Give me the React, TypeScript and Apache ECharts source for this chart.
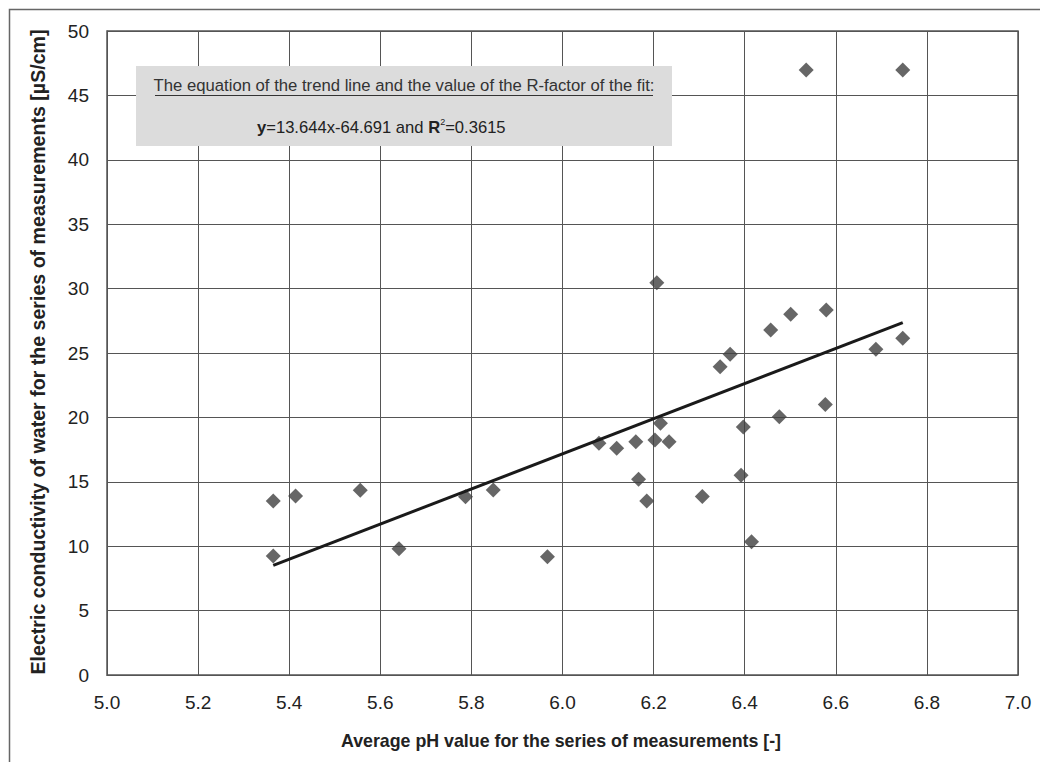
import React, { useEffect, useRef } from "react";
import * as echarts from "echarts";

const phValues = [
  5.365, 5.414, 5.556, 5.365, 5.641, 5.787, 5.848, 5.967, 6.080, 6.119,
  6.161, 6.167, 6.185, 6.207, 6.203, 6.215, 6.234, 6.307, 6.346, 6.368,
  6.397, 6.392, 6.415, 6.457, 6.501, 6.579, 6.476, 6.577, 6.688, 6.747,
  6.535, 6.747,
];
const conductivity = [
  13.5, 13.9, 14.35, 9.24, 9.81, 13.84, 14.36, 9.19, 17.99, 17.6,
  18.1, 15.2, 13.5, 30.46, 18.25, 19.54, 18.11, 13.85, 23.94, 24.9,
  19.25, 15.5, 10.35, 26.79, 28.0, 28.34, 20.05, 21.0, 25.29, 26.14,
  46.97, 46.97,
];
const trendSlope = 13.644;
const trendIntercept = -64.691;
const xTicks = ["5.0", "5.2", "5.4", "5.6", "5.8", "6.0", "6.2", "6.4", "6.6", "6.8", "7.0"];

const FONT = "'Liberation Sans', Arial, Helvetica, sans-serif";

export default function App() {
  const ref = useRef<HTMLDivElement>(null);
  useEffect(() => {
    if (!ref.current) return;
    const chart = echarts.init(ref.current, null, { renderer: "svg" });
    const points = phValues.map((x, i) => [x, conductivity[i]]);
    const xMin = Math.min(...phValues);
    const xMax = Math.max(...phValues);
    const trend = [
      [xMin, trendSlope * xMin + trendIntercept],
      [xMax, trendSlope * xMax + trendIntercept],
    ];
    chart.setOption({
      animation: false,
      backgroundColor: "#ffffff",
      grid: { left: 107, right: 22, top: 31, bottom: 87, show: false },
      xAxis: {
        type: "value",
        min: 5,
        max: 7,
        interval: 0.2,
        axisLine: { show: true, lineStyle: { color: "#555", width: 1 } },
        axisTick: { show: false },
        splitLine: { show: true, lineStyle: { color: "#555", width: 1 } },
        axisLabel: {
          color: "#222",
          fontSize: 19,
          fontFamily: FONT,
          margin: 18,
          formatter: (v: number) => {
            const idx = Math.round((v - 5) / 0.2);
            return xTicks[idx] ?? v.toFixed(1);
          },
        },
      },
      yAxis: {
        type: "value",
        min: 0,
        max: 50,
        interval: 5,
        axisLine: { show: true, lineStyle: { color: "#555", width: 1 } },
        axisTick: { show: false },
        splitLine: { show: true, lineStyle: { color: "#555", width: 1 } },
        axisLabel: { color: "#222", fontSize: 19, fontFamily: FONT, margin: 18 },
      },
      graphic: [
        {
          type: "rect",
          silent: true,
          shape: { x: 9.5, y: 9.5, width: 1100, height: 800 },
          style: { fill: "none", stroke: "#666", lineWidth: 1.5 },
          z: -10,
        },
        {
          type: "rect",
          silent: true,
          shape: { x: 107, y: 31, width: 911, height: 644 },
          style: { fill: "none", stroke: "#555", lineWidth: 1.5 },
          z: 5,
        },
        {
          type: "rect",
          silent: true,
          shape: { x: 136, y: 66, width: 536, height: 80 },
          style: { fill: "#dcdcdc" },
          z: 10,
        },
        {
          type: "text",
          silent: true,
          x: 404,
          y: 85,
          style: {
            text: "The equation of the trend line and the value of the R-factor of the fit:",
            fill: "#333",
            font: `16.7px ${FONT}`,
            align: "center",
            verticalAlign: "middle",
          },
          z: 11,
        },
        {
          type: "line",
          silent: true,
          shape: { x1: 155, y1: 95.5, x2: 653, y2: 95.5 },
          style: { stroke: "#333", lineWidth: 1 },
          z: 11,
        },
        {
          type: "text",
          silent: true,
          x: 257,
          y: 127,
          style: {
            text: "{b|y}{n|=13.644x-64.691 and }{b|R}{s|2}{n|=0.3615}",
            verticalAlign: "middle",
            align: "left",
            rich: {
              b: { font: `bold 16.6px ${FONT}`, fill: "#222" },
              n: { font: `16.6px ${FONT}`, fill: "#222" },
              s: { font: `9px ${FONT}`, fill: "#222", verticalAlign: "top", padding: [0, 0, 10, 0] },
            },
          },
          z: 11,
        },
        {
          type: "text",
          silent: true,
          x: 561,
          y: 741,
          style: {
            text: "Average pH value for the series of measurements [-]",
            fill: "#222",
            font: `bold 17.8px ${FONT}`,
            align: "center",
            verticalAlign: "middle",
          },
        },
        {
          type: "text",
          silent: true,
          x: 38,
          y: 352,
          rotation: Math.PI / 2,
          style: {
            text: "Electric conductivity of water for the series of measurements [µS/cm]",
            fill: "#222",
            font: `bold 19.6px ${FONT}`,
            align: "center",
            verticalAlign: "middle",
          },
        },
      ],
      series: [
        {
          type: "scatter",
          data: points,
          symbol: "diamond",
          symbolSize: [15, 15],
          itemStyle: { color: "#404040" },
          z: 3,
        },
        {
          type: "line",
          data: trend,
          symbol: "none",
          lineStyle: { color: "#1a1a1a", width: 3 },
          z: 4,
        },
      ],
    });
    return () => chart.dispose();
  }, []);
  return <div ref={ref} style={{ width: 1040, height: 762, position: "absolute", left: 0, top: 0 }} />;
}
